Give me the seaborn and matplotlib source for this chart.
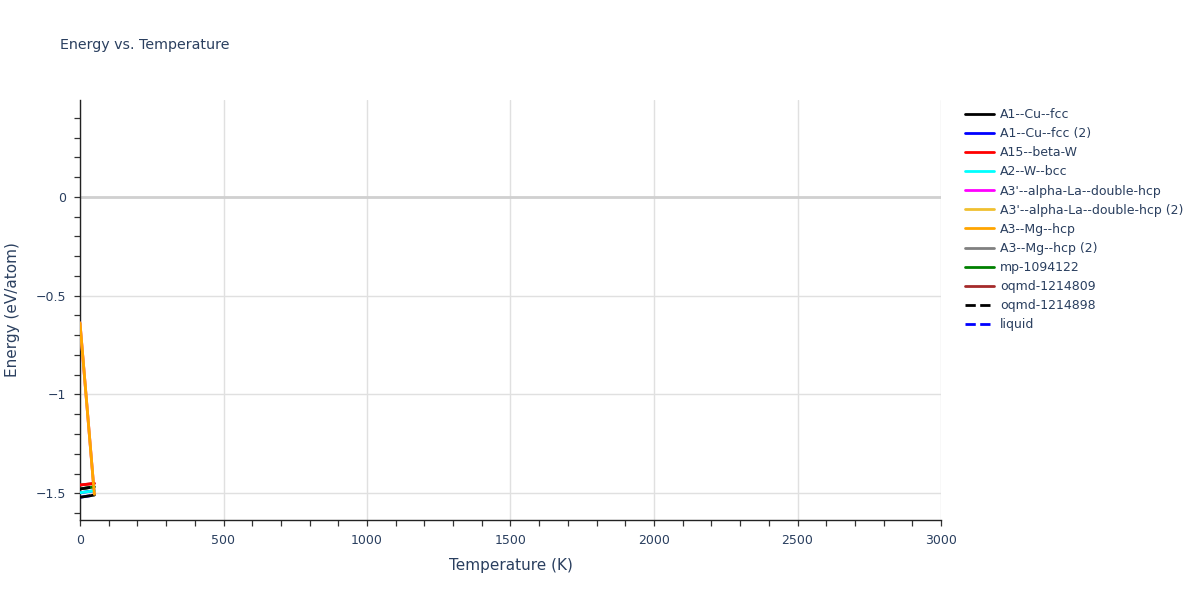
import matplotlib
matplotlib.use('Agg')
import matplotlib.pyplot as plt
from matplotlib.lines import Line2D
from matplotlib.ticker import MultipleLocator
import seaborn as sns
import pandas as pd

# Data
temperature = [0, 50]
series_names = [
    "A1--Cu--fcc", "A1--Cu--fcc (2)", "A15--beta-W", "A2--W--bcc",
    "A3'--alpha-La--double-hcp", "A3'--alpha-La--double-hcp (2)",
    "A3--Mg--hcp", "A3--Mg--hcp (2)", "mp-1094122", "oqmd-1214809",
    "oqmd-1214898", "liquid",
]
series_colors = [
    "black", "blue", "red", "cyan", "magenta", "#f0c030", "orange",
    "gray", "green", "brown", "black", "blue",
]
series_dashed = [False] * 10 + [True, True]
energy = {
    "A1--Cu--fcc": [-1.520, -1.509],
    "A1--Cu--fcc (2)": [-1.497, -1.487],
    "A15--beta-W": [-1.458, -1.450],
    "A2--W--bcc": [-1.497, -1.487],
    "A3'--alpha-La--double-hcp": [-0.638, -1.505],
    "A3'--alpha-La--double-hcp (2)": [-0.638, -1.505],
    "A3--Mg--hcp": [-0.638, -1.505],
    "A3--Mg--hcp (2)": [-1.478, -1.467],
    "mp-1094122": [-1.478, -1.467],
    "oqmd-1214809": [-1.458, -1.450],
    "oqmd-1214898": [-1.478, -1.467],
    "liquid": [-1.520, -1.509],
}
# draw order so that the visible colours end up on top (as in the reference)
draw_order = [1, 4, 5, 7, 8, 9, 11, 0, 2, 3, 6, 10]

text_color = "#2a3f5f"
sns.set_theme(style="white")
plt.rcParams['font.family'] = ['DejaVu Sans']

fig = plt.figure(figsize=(12, 6), dpi=100)
ax = fig.add_axes([80 / 1200, 80 / 600, 861 / 1200, 420 / 600])

for i in draw_order:
    name = series_names[i]
    df = pd.DataFrame({"T": temperature, "E": energy[name]})
    sns.lineplot(data=df, x="T", y="E", ax=ax, color=series_colors[i],
                 linewidth=2, linestyle="--" if series_dashed[i] else "-",
                 zorder=3 + draw_order.index(i))

ax.set_xlim(0, 3000)
ax.set_ylim(-1.635, 0.49)
ax.xaxis.set_major_locator(MultipleLocator(500))
ax.xaxis.set_minor_locator(MultipleLocator(100))
ax.yaxis.set_major_locator(MultipleLocator(0.5))
ax.yaxis.set_minor_locator(MultipleLocator(0.1))
ax.yaxis.set_major_formatter(plt.FuncFormatter(
    lambda v, p: "0" if abs(v) < 1e-9 else f"{v:g}".replace("-", "\u2212")))

ax.grid(True, which="major", color="#e0e0e0", linewidth=1)
ax.axhline(0, color="#d0d0d0", linewidth=2, zorder=1)
for side in ["top", "right"]:
    ax.spines[side].set_visible(False)
for side in ["left", "bottom"]:
    ax.spines[side].set_color("#222222")
    ax.spines[side].set_linewidth(1)
ax.tick_params(which="both", direction="out", color="#333333", labelcolor=text_color,
               labelsize=9, left=True, bottom=True, width=0.9, length=4)
ax.tick_params(which="major", pad=6)

ax.set_xlabel("Temperature (K)", fontsize=11, color=text_color, labelpad=8)
ax.set_ylabel("Energy (eV/atom)", fontsize=11, color=text_color, labelpad=11)
fig.text(60 / 1200, 1 - 45 / 600, "Energy vs. Temperature", fontsize=10.3,
         color=text_color, va="center")

handles = [Line2D([0], [0], color=c, linewidth=2, linestyle="--" if d else "-")
           for c, d in zip(series_colors, series_dashed)]
leg = fig.legend(handles, series_names, loc="upper left",
                 bbox_to_anchor=(960 / 1200, 1 - 103 / 600), frameon=False,
                 fontsize=9, handlelength=2.3, handletextpad=0.5, labelspacing=0.49,
                 borderaxespad=0)
for t in leg.get_texts():
    t.set_color(text_color)

fig.savefig("out.png", dpi=100)
